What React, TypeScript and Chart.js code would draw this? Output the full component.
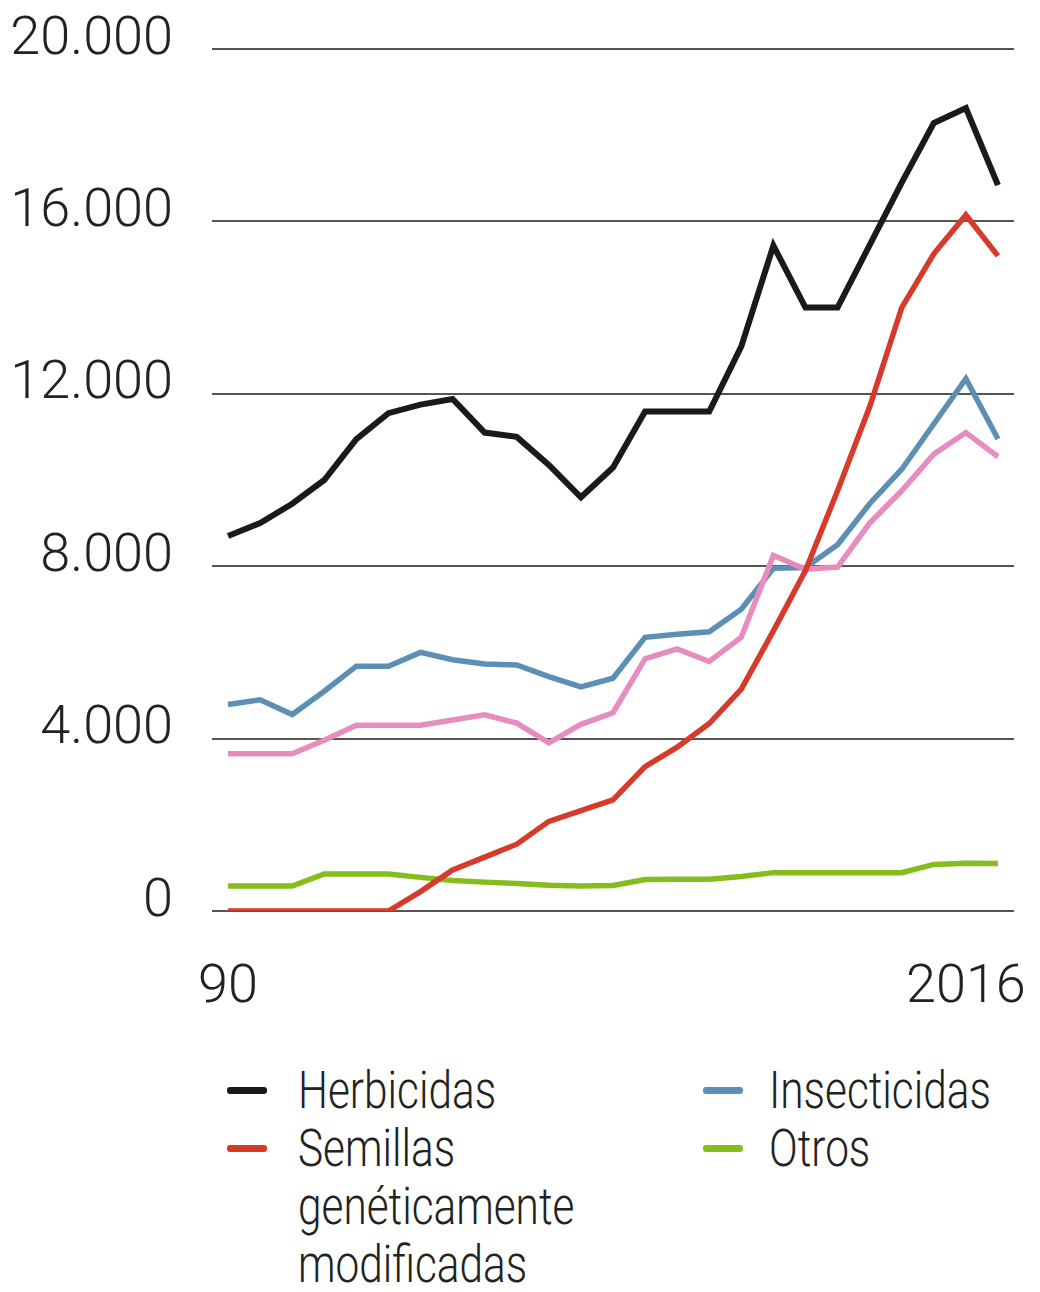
import React, { useEffect, useRef } from "react";
import { Chart, registerables } from "chart.js";

Chart.register(...registerables);

// Category tick labels (25 plotted points; only the ends are labelled in the original)
const xLabels = ["90", "", "", "", "", "", "", "", "", "", "", "", "", "", "", "", "", "", "", "", "", "", "", "2016", ""];

const herbicidas = [8700, 9000, 9450, 10000, 10950, 11550, 11750, 11880, 11100, 11000, 10350, 9600, 10290, 11590, 11590, 11590, 13100, 15440, 14000, 14000, 15450, 16900, 18280, 18630, 16840];
const semillas = [0, 0, 0, 0, 0, 0, 450, 950, 1250, 1550, 2080, 2330, 2580, 3350, 3800, 4350, 5150, 6500, 7900, 9750, 11700, 14000, 15250, 16150, 15200];
const insecticidas = [4790, 4900, 4560, 5100, 5680, 5680, 6000, 5830, 5730, 5710, 5440, 5200, 5400, 6350, 6420, 6480, 7000, 7950, 7970, 8500, 9450, 10250, 11300, 12350, 10950];
const fungicidas = [3650, 3650, 3650, 3960, 4310, 4310, 4310, 4430, 4550, 4360, 3900, 4330, 4600, 5850, 6080, 5790, 6350, 8250, 7930, 7980, 9000, 9750, 10600, 11100, 10540];
const otros = [580, 580, 580, 860, 860, 860, 780, 710, 670, 640, 600, 580, 590, 730, 735, 735, 800, 890, 890, 890, 890, 890, 1080, 1110, 1100];

const yTicks = [0, 4000, 8000, 12000, 16000, 20000];

const COLORS = {
  herbicidas: "#1a1a1a",
  semillas: "#d63a2a",
  insecticidas: "#5b8fb4",
  fungicidas: "#e78cbe",
  otros: "#86bd1c",
};

const legendItems = [
  { lines: ["Herbicidas"], color: COLORS.herbicidas, col: 0, row: 0 },
  { lines: ["Insecticidas"], color: COLORS.insecticidas, col: 1, row: 0 },
  { lines: ["Semillas", "genéticamente", "modificadas"], color: COLORS.semillas, col: 0, row: 1 },
  { lines: ["Otros"], color: COLORS.otros, col: 1, row: 1 },
];

const fmt = (v: number) => (v === 0 ? "0" : String(v).replace(/\B(?=(\d{3})+(?!\d))/g, "."));

const tickFont = { family: "Roboto, 'Liberation Sans', sans-serif", size: 54, weight: "300" as any };

export default function App() {
  const canvasRef = useRef<HTMLCanvasElement | null>(null);

  useEffect(() => {
    if (!canvasRef.current) return;
    const chart = new Chart(canvasRef.current, {
      type: "line",
      data: {
        labels: xLabels,
        datasets: [
          { label: "Herbicidas", data: herbicidas, borderColor: COLORS.herbicidas, borderWidth: 6, order: 0 },
          { label: "Semillas genéticamente modificadas", data: semillas, borderColor: COLORS.semillas, borderWidth: 5.5, order: 1 },
          { label: "Fungicidas", data: fungicidas, borderColor: COLORS.fungicidas, borderWidth: 5.5, order: 2 },
          { label: "Insecticidas", data: insecticidas, borderColor: COLORS.insecticidas, borderWidth: 5.5, order: 3 },
          { label: "Otros", data: otros, borderColor: COLORS.otros, borderWidth: 5.5, order: 4 },
        ],
      },
      options: {
        animation: false,
        responsive: true,
        maintainAspectRatio: false,
        layout: { padding: { top: 41, right: 18, left: 0, bottom: 0 } },
        plugins: { legend: { display: false }, tooltip: { enabled: false } },
        elements: {
          point: { radius: 0, hoverRadius: 0 },
          line: { tension: 0, fill: false, borderCapStyle: "butt", borderJoinStyle: "miter" },
        },
        scales: {
          x: {
            type: "category",
            offset: true,
            grid: { display: false, drawTicks: false },
            border: { display: false },
            ticks: {
              autoSkip: false,
              maxRotation: 0,
              minRotation: 0,
              padding: 45,
              color: "#222",
              font: tickFont,
            },
            afterFit: (s: any) => {
              s.height = 127;
              s.paddingLeft = 0;
              s.paddingRight = 0;
            },
          },
          y: {
            min: 0,
            max: 20000,
            afterBuildTicks: (s: any) => {
              s.ticks = yTicks.map((v) => ({ value: v }));
            },
            grid: { color: "#555555", lineWidth: 2, drawTicks: false },
            border: { display: false },
            ticks: {
              padding: 39,
              labelOffset: -9,
              color: "#222",
              font: tickFont,
              callback: (v: any) => fmt(Number(v)),
            },
            afterFit: (s: any) => {
              s.width = 204;
              s.paddingTop = 0;
              s.paddingBottom = 0;
            },
          },
        },
      } as any,
    });
    return () => chart.destroy();
  }, []);

  const swatchLeft = [219, 695];
  const textLeft = [290, 761];
  const lineH = 58;

  return (
    <div style={{ width: 1024, height: 1276, overflow: "hidden" }}>
      <div style={{ position: "relative", width: 1024, height: 1030 }}>
        <canvas ref={canvasRef} />
      </div>
      <div style={{ position: "relative", marginTop: 24, height: 214 }}>
        {legendItems.map((it, i) => (
          <React.Fragment key={i}>
            <div
              style={{
                position: "absolute",
                left: swatchLeft[it.col],
                top: it.row * lineH + 24.5,
                width: 40,
                height: 7,
                background: it.color,
                borderRadius: 3,
              }}
            />
            <div
              style={{
                position: "absolute",
                left: textLeft[it.col],
                top: it.row * lineH,
                fontFamily: "Roboto, 'DejaVu Sans Condensed', sans-serif",
                fontWeight: 300,
                fontSize: 51,
                lineHeight: lineH + "px",
                color: "#222",
                whiteSpace: "nowrap",
                transform: "scaleX(0.83)",
                transformOrigin: "left top",
              }}
            >
              {it.lines.map((l, j) => (
                <div key={j}>{l}</div>
              ))}
            </div>
          </React.Fragment>
        ))}
      </div>
    </div>
  );
}
